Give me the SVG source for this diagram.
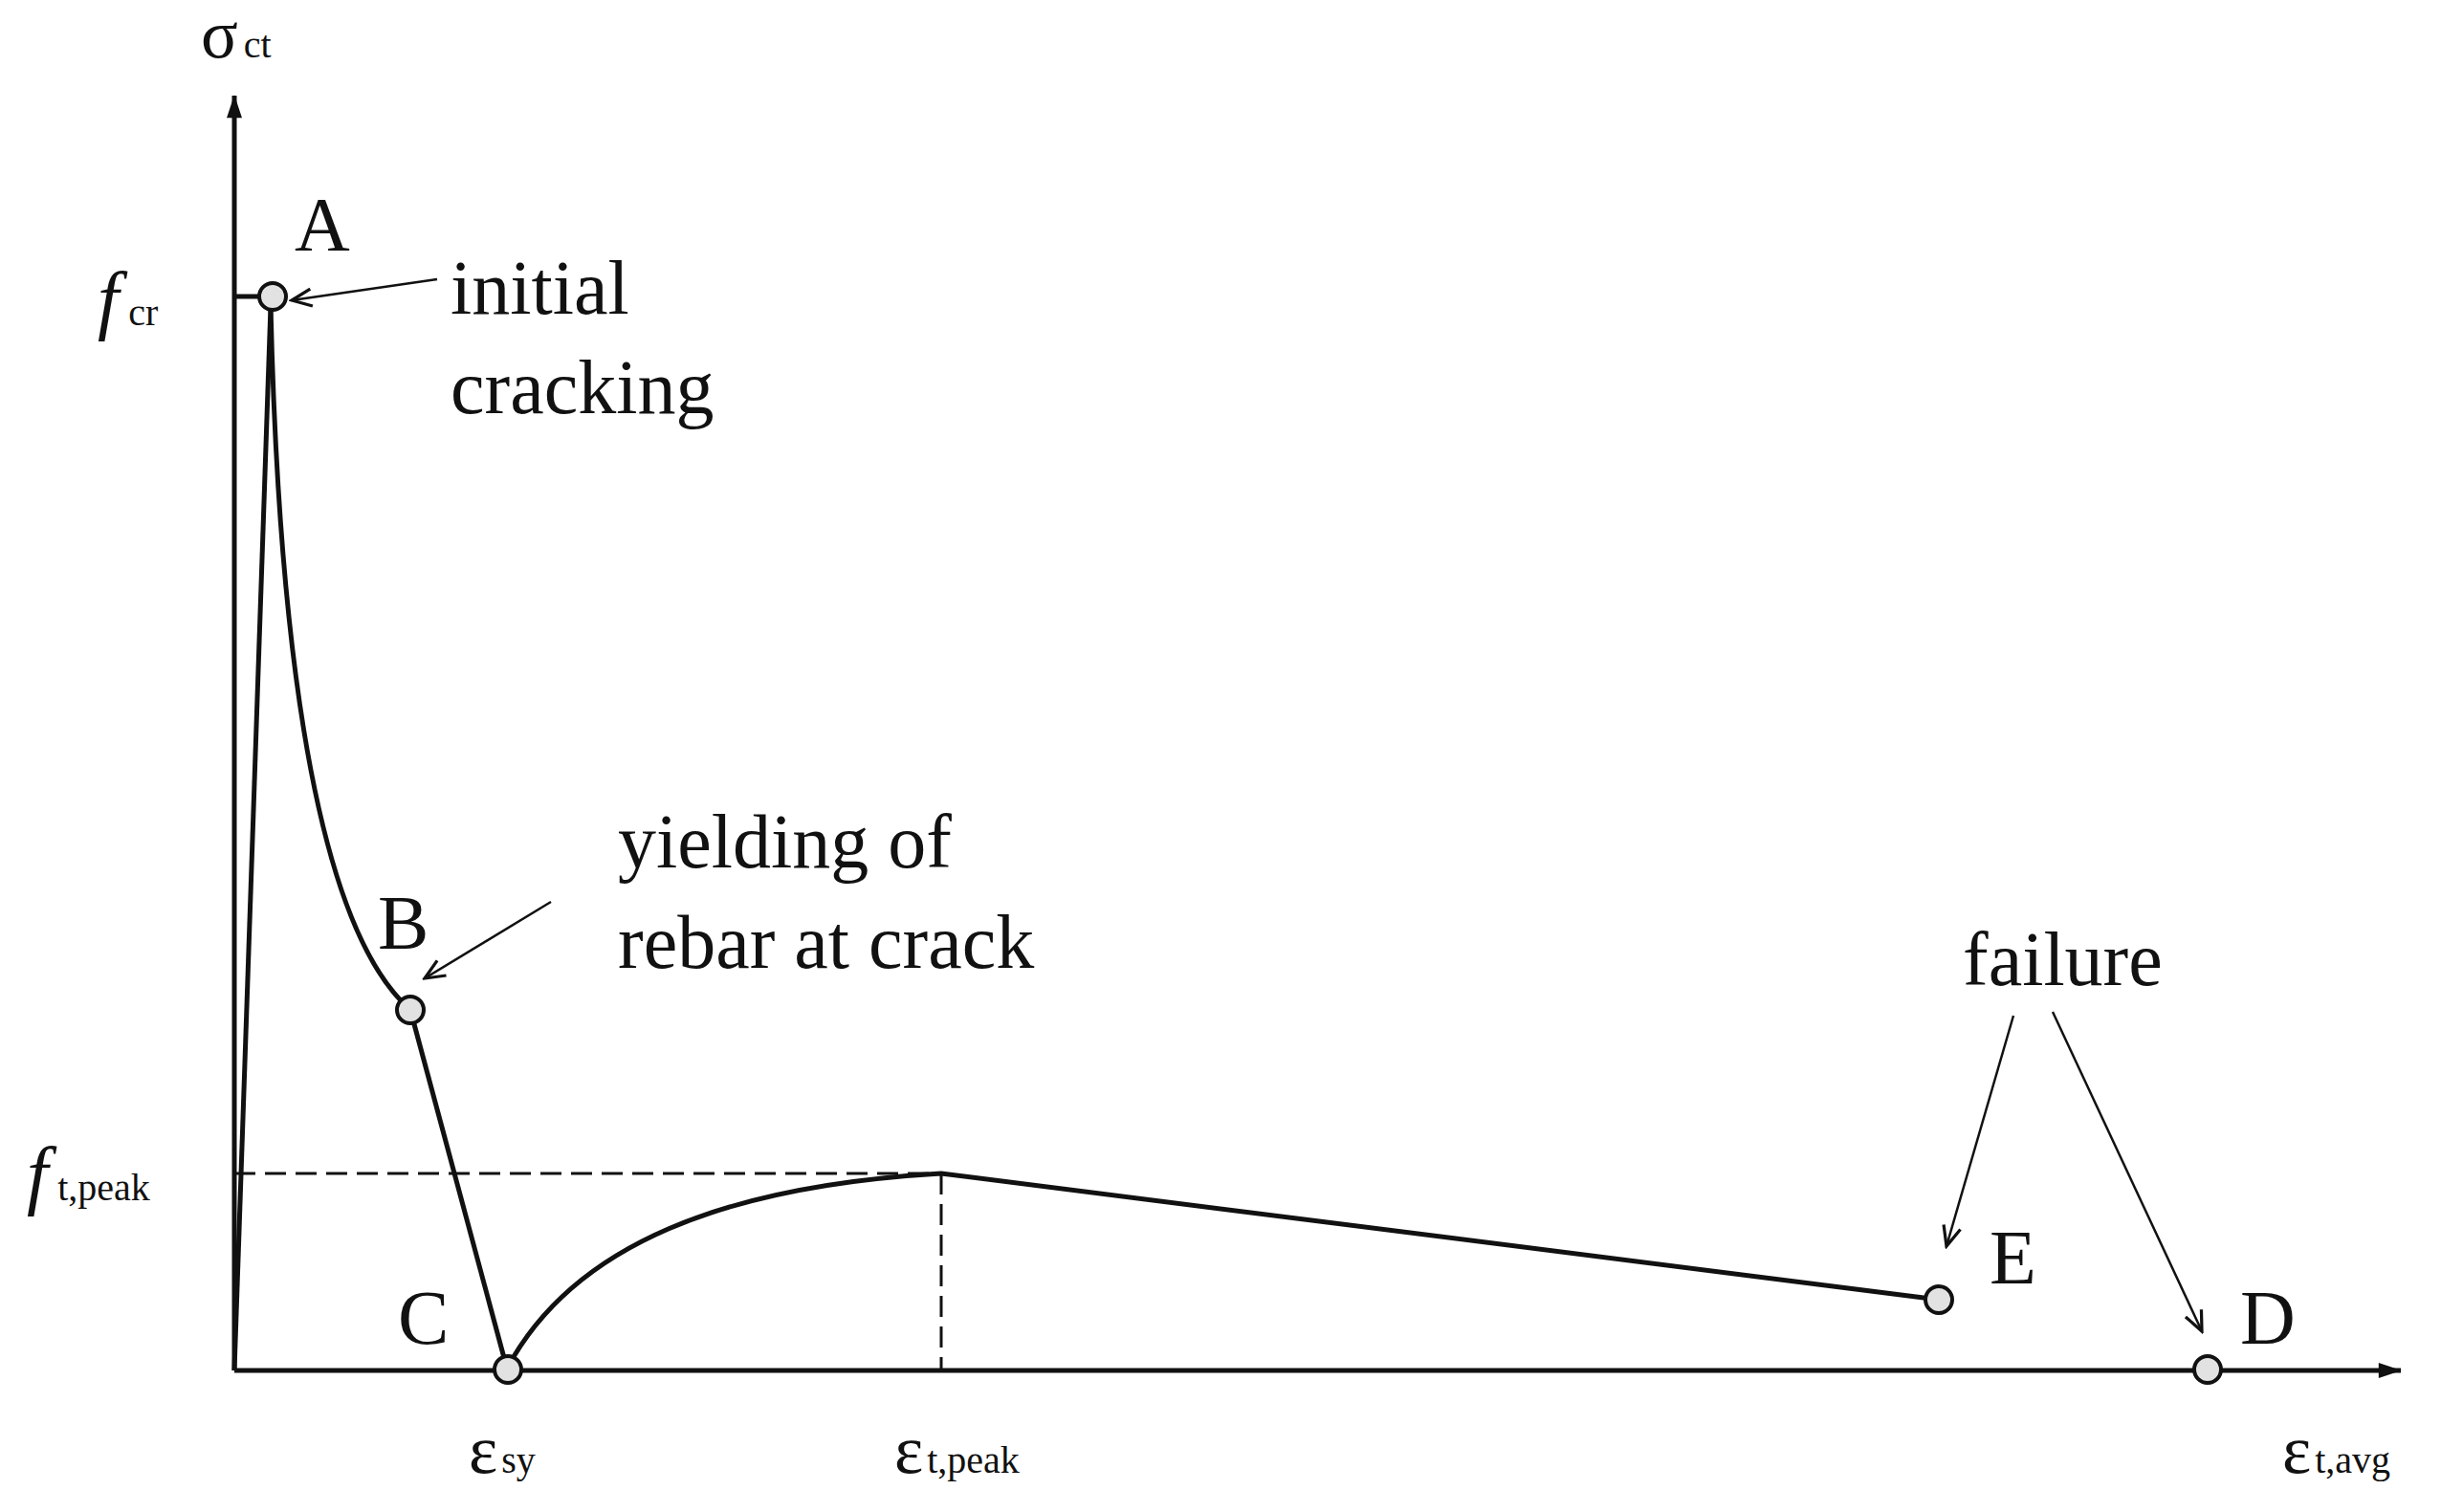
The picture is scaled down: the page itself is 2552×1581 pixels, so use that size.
<svg xmlns="http://www.w3.org/2000/svg" width="2552" height="1581" viewBox="0 0 2552 1581">
<style>
text{font-family:"Liberation Serif","Times New Roman",serif;fill:#111}
.lbl{font-size:80px}
.sub{font-size:40px}
.ax{stroke:#111;stroke-width:5;fill:none}
.cv{stroke:#111;stroke-width:5;fill:none}
.ptr{stroke:#111;stroke-width:2.5;fill:none}
.dash{stroke:#111;stroke-width:3;stroke-dasharray:22 10;fill:none}
.pt{fill:#e2e2e2;stroke:#111;stroke-width:4}
</style>
<defs>
<marker id="big" viewBox="0 0 10 10" refX="9" refY="5" markerWidth="8" markerHeight="8" orient="auto" markerUnits="userSpaceOnUse" style="overflow:visible"><path d="M-30,-10 L0,0 L-30,10 Z" fill="#111" transform="translate(10,5)"/></marker>
<marker id="open" viewBox="0 0 20 20" refX="18" refY="10" markerWidth="26" markerHeight="26" orient="auto" markerUnits="userSpaceOnUse"><path d="M2,3 L18,10 L2,17" fill="none" stroke="#111" stroke-width="2.5"/></marker>
</defs>
<g id="axes">
<line class="ax" x1="245" y1="1433" x2="245" y2="100" marker-end="url(#big)"/>
<line class="ax" x1="245" y1="1433" x2="2510" y2="1433" marker-end="url(#big)"/>
<line class="ax" x1="245" y1="310" x2="271" y2="310" stroke-width="3"/>
</g>
<g id="connectors">
<path class="cv" d="M245,1433 L283,320"/>
<path class="cv" d="M283,320 C290,620 320,960 429,1056"/>
<path class="cv" d="M429,1056 L530,1431"/>
<path class="cv" d="M530,1431 C600,1300 760,1240 984,1227 L2027,1359"/>
<path class="dash" d="M245,1227 L984,1227"/>
<path class="dash" d="M984,1227 L984,1433"/>
<line class="ptr" x1="457" y1="292" x2="305" y2="314" marker-end="url(#open)"/>
<line class="ptr" x1="576" y1="943" x2="444" y2="1023" marker-end="url(#open)"/>
<line class="ptr" x1="2105" y1="1062" x2="2035" y2="1303" marker-end="url(#open)"/>
<line class="ptr" x1="2146" y1="1058" x2="2302" y2="1392" marker-end="url(#open)"/>
</g>
<g id="A"><circle class="pt" cx="285" cy="310" r="14"/><text class="lbl" x="308" y="262">A</text></g>
<g id="B"><circle class="pt" cx="429" cy="1056" r="14"/><text class="lbl" x="395" y="992">B</text></g>
<g id="C"><circle class="pt" cx="531" cy="1432" r="14"/><text class="lbl" x="416" y="1405">C</text></g>
<g id="E"><circle class="pt" cx="2027" cy="1359" r="14"/><text class="lbl" x="2080" y="1342">E</text></g>
<g id="D"><circle class="pt" cx="2308" cy="1432" r="14"/><text class="lbl" x="2342" y="1405">D</text></g>
<g id="labels">
<text x="210" y="60" style="font-size:72px">σ<tspan class="sub" dx="6">ct</tspan></text>
<text x="102" y="340" style="font-size:80px;font-style:italic">f<tspan class="sub" font-style="normal" dx="10">cr</tspan></text>
<text x="28" y="1255" style="font-size:80px;font-style:italic">f<tspan class="sub" font-style="normal" dx="10">t,peak</tspan></text>
<text class="lbl" x="471" y="328">initial</text>
<text class="lbl" x="471" y="432">cracking</text>
<text class="lbl" x="646" y="907">yielding of</text>
<text class="lbl" x="646" y="1012">rebar at crack</text>
<text class="lbl" x="2052" y="1030">failure</text>
<text x="490" y="1540" style="font-size:72px">ε<tspan class="sub" dx="4">sy</tspan></text>
<text x="935" y="1540" style="font-size:72px">ε<tspan class="sub" dx="4">t,peak</tspan></text>
<text x="2386" y="1540" style="font-size:72px">ε<tspan class="sub" dx="4">t,avg</tspan></text>
</g>
</svg>
